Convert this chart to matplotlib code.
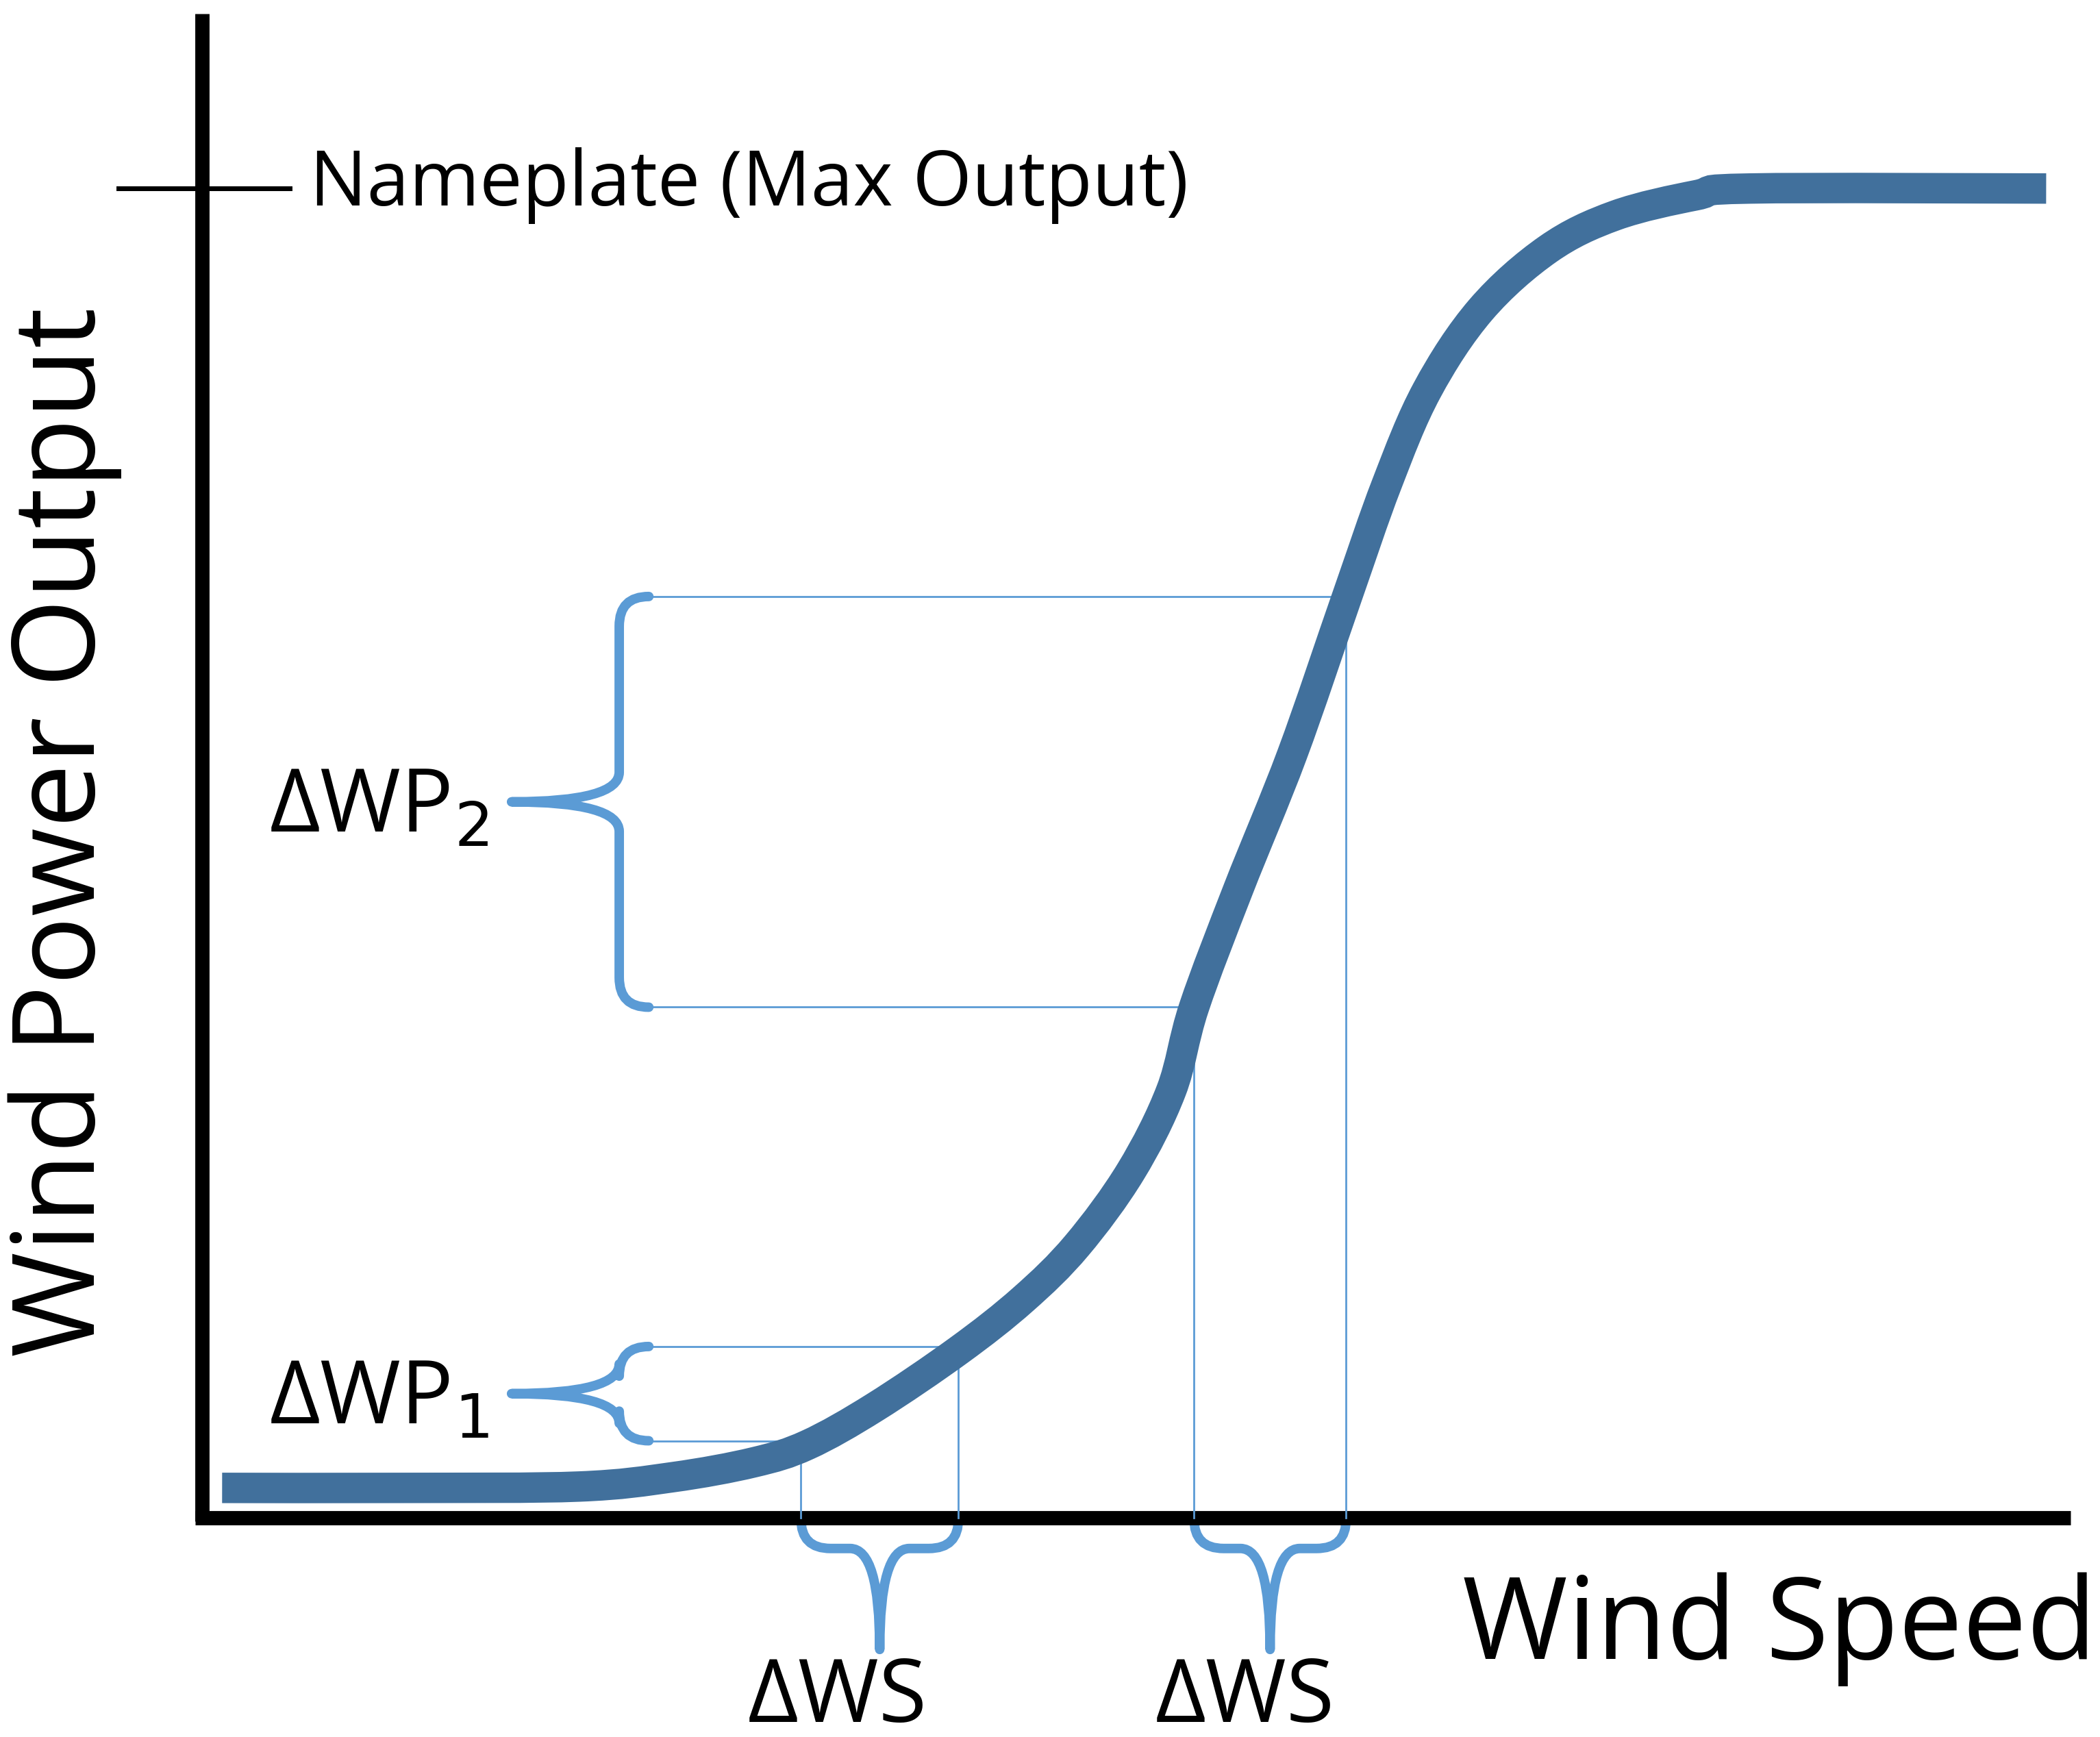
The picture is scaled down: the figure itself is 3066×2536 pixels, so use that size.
import matplotlib
matplotlib.use("Agg")
import matplotlib.pyplot as plt
from matplotlib.path import Path
from matplotlib.patches import PathPatch

# power curve (diagram coordinates, y downward)
wind_speed = [165, 300, 430, 500, 560, 600, 650, 712, 760, 800, 840, 870, 887, 920, 960,
              1000, 1030, 1060, 1100, 1150, 1200, 1260, 1300, 1520]
wind_power = [1105, 1105, 1104, 1097, 1086, 1073, 1045, 1003, 965, 925, 870, 810, 748, 660, 560,
              445, 360, 290, 230, 185, 160, 145, 140, 140]

# delta intervals: (ws_left, wp_left, ws_right, wp_right)
intervals = [(595, 1070, 712, 1000), (887, 748, 1000, 443)]
wp_labels = ["ΔWP$_1$", "ΔWP$_2$"]
ws_labels = ["ΔWS", "ΔWS"]

plt.rcParams['font.family'] = ['Open Sans', 'DejaVu Sans']
fig = plt.figure(figsize=(30.66, 25.36), dpi=100)
ax = fig.add_axes([0, 0, 1, 1])
ax.set_xlim(0, 1560)
ax.set_ylim(1290, 0)
ax.axis('off')

BL = '#5B9BD5'
DARK = '#41709C'

ax.plot([150, 150], [10, 1130], color='black', lw=15, solid_capstyle='butt')
ax.plot([145, 1538], [1127, 1127], color='black', lw=15, solid_capstyle='butt')
ax.plot([88, 215], [140, 140], color='black', lw=5)

Q = [Path.MOVETO, Path.CURVE3, Path.CURVE3, Path.LINETO,
     Path.LINETO, Path.CURVE3, Path.CURVE3, Path.CURVE3, Path.CURVE3,
     Path.LINETO, Path.LINETO, Path.CURVE3, Path.CURVE3]

def vbrace(x, y0, y1, tipx):
    ym = (y0 + y1) / 2
    h = 22
    verts = [(x + 22, y0), (x, y0), (x, y0 + h), (x, ym - h),
             (x, ym - h), (x, ym), (tipx, ym), (x, ym), (x, ym + h),
             (x, ym + h), (x, y1 - h), (x, y1), (x + 22, y1)]
    ax.add_patch(PathPatch(Path(verts, Q), fill=False, ec=BL, lw=10, capstyle='round', joinstyle='round'))

def hbrace(y, x0, x1, tipy):
    xm = (x0 + x1) / 2
    w = 22
    verts = [(x0, y - 22), (x0, y), (x0 + w, y), (xm - w, y),
             (xm - w, y), (xm, y), (xm, tipy), (xm, y), (xm + w, y),
             (xm + w, y), (x1 - w, y), (x1, y), (x1, y - 22)]
    ax.add_patch(PathPatch(Path(verts, Q), fill=False, ec=BL, lw=10, capstyle='round', joinstyle='round'))

ws_centers = [622, 925]
for (xl, yl, xr, yr), wl, sl, cx in zip(intervals, wp_labels, ws_labels, ws_centers):
    ax.plot([482, xr, xr], [yr, yr, 1127], color=BL, lw=2)
    ax.plot([482, xl, xl], [yl, yl, 1127], color=BL, lw=2)
    vbrace(460, yr, yl, 380)
    hbrace(1150, xl, xr, 1225)
    ax.text(200, (yl + yr) / 2 + 5, wl, fontsize=92, ha='left', va='center')
    ax.text(cx, 1262, sl, fontsize=92, ha='center', va='center')

# smooth curve through the read points (Catmull-Rom rendered as cubic Bezier)
pts = list(zip(wind_speed, wind_power))
verts = [pts[0]]
codes = [Path.MOVETO]
for i in range(len(pts) - 1):
    p0 = pts[max(i - 1, 0)]; p1 = pts[i]; p2 = pts[i + 1]; p3 = pts[min(i + 2, len(pts) - 1)]
    c1 = (p1[0] + (p2[0] - p0[0]) / 6, p1[1] + (p2[1] - p0[1]) / 6)
    c2 = (p2[0] - (p3[0] - p1[0]) / 6, p2[1] - (p3[1] - p1[1]) / 6)
    verts += [c1, c2, p2]
    codes += [Path.CURVE4] * 3
ax.add_patch(PathPatch(Path(verts, codes), fill=False, ec=DARK, lw=32, capstyle='butt', zorder=5))

ax.text(230, 138, "Nameplate (Max Output)", fontsize=80, ha='left', va='center')
ax.text(1322, 1210, "Wind Speed", fontsize=120, ha='center', va='center')
ax.text(48, 618, "Wind Power Output", fontsize=120, ha='center', va='center', rotation=90)

fig.savefig("out.png", dpi=100)
